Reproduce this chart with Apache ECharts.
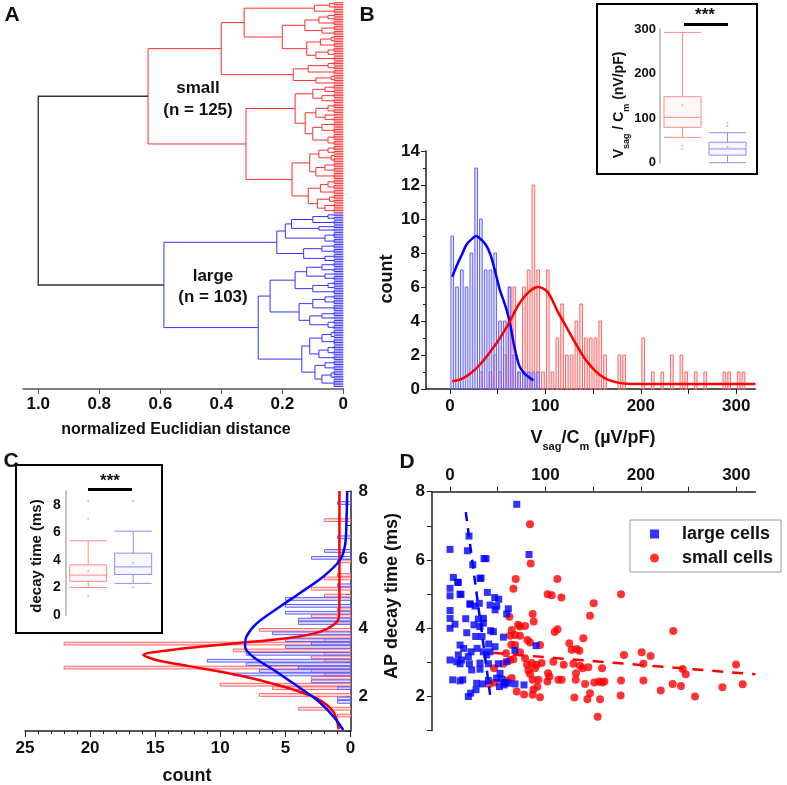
<!DOCTYPE html>
<html>
<head>
<meta charset="utf-8">
<script src="https://cdn.jsdelivr.net/npm/echarts@6/dist/echarts.min.js"></script>
<style>
  html, body { margin: 0; padding: 0; background: #fff; }
  #main { width: 787px; height: 785px; }
</style>
</head>
<body>
<div id="main"></div>
<script>
// ---------- A: dendrogram (node = [height, child, child]; a bare number = tight bundle of leaves)
var smallTree = [0.64,
  [0.40,
    [0.325, [0.095, [0.045, 2, 2], 3],
            [0.20, [0.126, [0.08, [0.05, 2, 2], 3], [0.07, 3, 3]],
                   [0.12, [0.075, [0.04, 2, 2], 3], [0.09, [0.05, 3, 2], 3]]]],
    [0.164, [0.115, [0.05, 3, 2], 3], [0.09, [0.04, 2, 2], 2]]],
  [0.319,
    [0.158, [0.10, [0.06, 3, 2], [0.07, 3, 3]],
            [0.125, [0.09, [0.05, 3, 3], [0.06, 2, 3]], [0.1, [0.07, 3, 4], [0.05, 4, 3]]]],
    [0.168, [0.11, [0.08, [0.05, 3, 2], [0.04, 2, 3]], [0.09, [0.06, 3, 3], 4]],
            [0.115, [0.075, [0.05, 3, 3], 3], [0.085, [0.045, 3, 2], [0.06, 3, 3]]]]]];
var largeTree = [0.588,
  [0.218, [0.19, [0.17, [0.1, [0.05, 2, 2], 3], [0.08, 2, 2]], [0.06, 4, 3]],
          [0.13, [0.07, 3, 3], [0.06, 3, 2]]],
  [0.279, [0.24, [0.158, [0.12, [0.07, 3, 3], [0.06, 2, 3]], [0.1, [0.05, 3, 2], 3]],
                 [0.145, [0.1, [0.06, 3, 3], 4], [0.11, [0.07, 3, 2], [0.05, 3, 3]]]],
          [0.136, [0.11, [0.07, [0.04, 3, 2], 4], [0.08, [0.05, 3, 3], 3]],
                  [0.093, [0.06, 3, 3], [0.07, [0.04, 3, 2], 5]]]]];
var rootHeight = 1.0;
var bundleHeight = 0.03;
var distTicks = [0, 0.2, 0.4, 0.6, 0.8, 1.0];

// ---------- B: Vsag/Cm histogram [bin centre, count] and fitted curves
var largeSag = [[2.5, 9], [7.5, 6], [12.5, 7], [17.5, 6], [22.5, 8], [27.5, 13], [32.5, 10], [37.5, 7],
  [42.5, 7], [47.5, 8], [52.5, 4], [57.5, 4], [62.5, 6], [67.5, 2], [72.5, 1], [77.5, 1], [82.5, 1],
  [87.5, 1], [92.5, 1]];
var smallSag = [[32.5, 1], [42.5, 1], [47.5, 2], [52.5, 1], [57.5, 2], [62.5, 6], [67.5, 6], [72.5, 1],
  [77.5, 6], [82.5, 7], [87.5, 12], [92.5, 7], [97.5, 1], [102.5, 7], [107.5, 1], [112.5, 3], [117.5, 5],
  [122.5, 2], [127.5, 2], [132.5, 4], [137.5, 5], [142.5, 3], [147.5, 3], [152.5, 3], [157.5, 4],
  [162.5, 2], [177.5, 2], [182.5, 2], [202.5, 3], [212.5, 1], [222.5, 1], [232.5, 2], [242.5, 2],
  [247.5, 1], [257.5, 1], [267.5, 1], [287.5, 1], [292.5, 1], [302.5, 1], [307.5, 1]];
var largeSagFit = [[2.5, 6.6], [7.5, 7.3], [12.5, 7.9], [17.5, 8.5], [22.5, 8.8], [27.5, 9.0], [32.5, 8.8],
  [37.5, 8.5], [42.5, 7.9], [47.5, 6.9], [52.5, 5.8], [57.5, 5.0], [62.5, 4.0], [67.5, 2.5], [72.5, 1.4],
  [77.5, 0.95], [82.5, 0.7], [87.5, 0.5]];
var smallSagFit = [[2.5, 0.45], [12.5, 0.6], [22.5, 0.95], [32.5, 1.5], [42.5, 2.2], [52.5, 3.0],
  [62.5, 3.95], [72.5, 5.0], [82.5, 5.7], [92.5, 6.0], [102.5, 5.7], [112.5, 4.6], [122.5, 3.6],
  [132.5, 2.6], [142.5, 1.7], [152.5, 1.05], [162.5, 0.62], [172.5, 0.42], [182.5, 0.33], [200, 0.3],
  [250, 0.3], [320, 0.3]];
var sagTicks = [0, 50, 100, 150, 200, 250, 300];
var sagLabels = [0, 100, 200, 300];

// B inset box plot (nV/pF): [min, Q1, median, Q3, max]
var sagBoxSmall = [57, 79.5, 102, 148.5, 293];
var sagBoxLarge = [0, 17, 31, 46, 67.5];
var sagDotsSmall = [38, 30, 129];
var sagDotsLarge = [90, 82.5, 36];

// ---------- C: AP decay time histogram [bin centre (ms), count] and fits [count, ms]
var smallDecay = [[7.15, 2], [5.95, 1], [5.55, 1], [5.45, 2], [5.15, 3], [4.95, 2], [4.55, 1], [4.35, 3],
  [4.15, 1], [3.95, 7], [3.75, 4], [3.65, 2], [3.55, 22], [3.35, 9], [3.25, 2], [3.15, 3], [3.05, 2],
  [2.85, 22], [2.75, 3], [2.65, 2], [2.55, 3], [2.35, 10], [2.25, 6], [2.05, 7], [1.65, 4], [1.45, 1]];
var largeDecay = [[7.65, 1], [6.65, 1], [6.25, 2], [6.05, 3], [5.25, 1], [4.85, 5], [4.65, 5], [4.45, 5],
  [4.25, 4], [4.15, 4], [3.85, 6], [3.65, 5], [3.55, 3], [3.45, 5], [3.25, 8], [3.05, 11], [2.95, 8],
  [2.85, 4], [2.75, 7], [2.65, 9], [2.45, 3], [2.25, 1], [1.95, 1], [1.85, 1]];
var smallDecayFit = [[0.85, 8.0], [0.85, 5.0], [0.9, 4.3], [1.3, 4.1], [2.3, 3.9], [4.6, 3.72], [9, 3.55],
  [13.6, 3.37], [15.9, 3.22], [15, 3.08], [12.5, 2.9], [8.5, 2.62], [5.2, 2.3], [2.6, 1.95], [1.3, 1.55],
  [0.9, 1.05]];
var largeDecayFit = [[0.25, 8.0], [0.3, 7.25], [0.4, 6.47], [0.8, 5.99], [2.1, 5.5], [3.9, 5.02],
  [5.4, 4.63], [7.2, 4.14], [8.0, 3.75], [8.1, 3.46], [7.5, 3.17], [5.9, 2.78], [4.4, 2.39], [2.6, 1.91],
  [1.3, 1.42], [0.55, 1.03]];
var decayLabels = [2, 4, 6, 8];

// C inset box plot (ms)
var decayBoxSmall = [2.0, 2.45, 2.9, 3.65, 5.4];
var decayBoxLarge = [2.3, 2.95, 3.5, 4.5, 6.1];
var decayDotsSmall = [1.4, 7.0, 8.3, 3.2];
var decayDotsLarge = [2.0, 8.3, 3.8];

// ---------- D: scatter [Vsag/Cm, decay time]
var largeCells = [[69.9, 7.63], [19.9, 6.7], [0, 6.31], [18.2, 6.27], [23.8, 5.86], [35.6, 6.04], [37.7, 6.04],
  [82.8, 6.16], [3.5, 5.49], [0, 5.17], [8.7, 5.34], [0, 4.95], [11.5, 4.99], [31.4, 5.46], [39.1, 5.05],
  [46.8, 4.9], [51, 4.85], [48.9, 4.65], [0, 4.52], [0, 4.29], [5.2, 4.12], [0, 4.0], [21, 4.71],
  [26.2, 4.65], [30.7, 4.73], [41.9, 4.68], [47.2, 4.54], [61.1, 4.57], [59.4, 4.42], [16.4, 4.28],
  [29.7, 4.27], [34.9, 4.29], [25.1, 4.1], [31.4, 4.05], [34.9, 4.15], [42.6, 3.93], [45.4, 3.9],
  [17.5, 3.87], [26.9, 3.76], [33.5, 3.76], [55.9, 3.74], [40.5, 3.54], [10.5, 3.51], [14.3, 3.41],
  [22, 3.31], [34.9, 3.31], [41.9, 3.31], [47.2, 3.46], [28.4, 3.41], [38.4, 3.22], [19.2, 3.17],
  [8.7, 3.22], [12.2, 3.07], [0, 3.07], [7, 3.02], [10.5, 2.96], [20.3, 2.96], [31.4, 2.98], [40.2, 2.96],
  [50.6, 2.96], [22.7, 2.78], [31.4, 2.8], [59.4, 3.02], [68, 3.35], [90.1, 3.49], [52.4, 2.68],
  [48.9, 2.54], [54.1, 2.51], [57.6, 2.41], [40.2, 2.47], [2.8, 2.49], [10.5, 2.46], [13.3, 2.49],
  [27.9, 2.39], [34.2, 2.37], [27.2, 2.2], [21.6, 2.1], [19.2, 2.0], [51.7, 2.29], [56.6, 2.34],
  [61.1, 2.39], [68.1, 2.37], [77.5, 2.34], [8.0, 5.35], [10.5, 5.0], [32.5, 5.47], [20.9, 4.71]];
var smallCells = [[83.8, 7.05], [84.5, 5.9], [68.8, 5.44], [112.5, 5.44], [66.4, 5.16], [102.3, 5.0],
  [106.5, 4.97], [116.7, 4.9], [179.2, 5.0], [150.5, 4.73], [146.7, 4.37], [86.6, 4.42], [87.7, 4.2],
  [62.2, 4.34], [109.7, 3.89], [112.6, 3.97], [71.3, 4.1], [73.3, 4.05], [78.6, 4.07], [64.6, 3.95],
  [68.1, 3.8], [73.3, 3.78], [81, 3.66], [83.8, 3.58], [62.9, 3.78], [94.3, 3.51], [64.2, 3.52],
  [68.1, 3.51], [125, 3.56], [139.7, 3.71], [127.5, 3.37], [132.7, 3.39], [135.6, 3.34], [58.7, 3.27],
  [73.3, 3.3], [62.9, 3.07], [66.4, 3.09], [78.6, 3.12], [80.7, 2.93], [85.6, 2.98], [90.8, 2.93],
  [96, 2.98], [89.1, 2.83], [82.1, 2.76], [83.8, 2.66], [102.7, 2.68], [108.3, 3.02], [119.1, 2.93],
  [129.3, 2.96], [136.2, 2.9], [139, 2.83], [159.3, 2.83], [132, 2.68], [145, 2.86], [182.3, 3.22],
  [200.8, 3.3], [210.2, 3.19], [234, 3.92], [202.6, 2.96], [243.8, 2.81], [247, 2.65], [299.7, 2.94],
  [46.1, 2.83], [55.9, 2.96], [64.6, 2.54], [59.7, 2.47], [46.5, 2.41], [41.2, 2.37], [69.9, 2.15],
  [77.6, 2.06], [86.6, 2.05], [94.3, 1.98], [87.3, 2.21], [91.5, 2.29], [86.6, 2.49], [92.6, 2.49],
  [102, 2.44], [104.1, 2.59], [113.5, 2.49], [117, 2.49], [131.7, 2.49], [141.5, 2.37], [130.3, 1.97],
  [143.9, 1.92], [146.7, 2.1], [151.2, 2.41], [156.1, 2.44], [159.3, 2.41], [161.7, 2.44], [157.2, 1.92],
  [154.7, 1.41], [179.2, 2.47], [178.8, 2.03], [202.6, 2.47], [220.8, 2.18], [233.3, 2.37], [242, 2.31],
  [256.7, 2.0], [285.4, 2.27], [306.7, 2.36]];
var largeCellsFit = [[16.5, 7.4], [42, 2.05]];
var smallCellsFit = [[45, 3.28], [320, 2.65]];

// ---------- build dendrogram segments
var FONT = 'Liberation Sans';
var treeColors = ['#ff3030', '#3535ff', '#333333'];
var dendro = [];
var leafIdx = 0;
function walk(node, col) {
  if (typeof node === 'number') {
    var first = leafIdx, last = leafIdx + node - 1;
    if (node === 1) { leafIdx++; return { y: first, h: 0 }; }
    for (var k = 0; k < node; k++) {
      dendro.push([0, leafIdx, bundleHeight, leafIdx, bundleHeight, leafIdx, bundleHeight, leafIdx, col]);
      leafIdx++;
    }
    dendro.push([bundleHeight, first, bundleHeight, first, bundleHeight, last, bundleHeight, last, col]);
    return { y: (first + last) / 2, h: bundleHeight };
  }
  var h = node[0];
  var kids = node.slice(1).map(function (c) { return walk(c, col); });
  var a = kids[0], b = kids[kids.length - 1];
  dendro.push([a.h, a.y, h, a.y, h, b.y, b.h, b.y, col]);
  return { y: (a.y + b.y) / 2, h: h };
}
var topBranch = walk(smallTree, 0);
var botBranch = walk(largeTree, 1);
dendro.push([topBranch.h, topBranch.y, rootHeight, topBranch.y, rootHeight, botBranch.y, botBranch.h, botBranch.y, 2]);

function renderDendro(params, api) {
  var pts = [];
  for (var k = 0; k < 4; k++) pts.push(api.coord([api.value(2 * k), api.value(2 * k + 1)]));
  return {
    type: 'polyline',
    shape: { points: pts },
    style: { stroke: treeColors[api.value(8)], fill: null, lineWidth: api.value(8) === 2 ? 1.4 : 1 }
  };
}

function rectRender(horizontal, half, stroke, fill) {
  return function (params, api) {
    var v = api.value(0), c = api.value(1);
    var p0, p1;
    if (horizontal) { p0 = api.coord([c, v + half]); p1 = api.coord([0, v - half]); }
    else { p0 = api.coord([v - half, c]); p1 = api.coord([v + half, 0]); }
    return {
      type: 'rect',
      shape: {
        x: Math.min(p0[0], p1[0]), y: Math.min(p0[1], p1[1]),
        width: Math.abs(p1[0] - p0[0]), height: Math.abs(p1[1] - p0[1])
      },
      style: { stroke: stroke, fill: fill, lineWidth: 1 }
    };
  };
}

function bold(size) {
  return { fontFamily: FONT, fontWeight: 'bold', fontSize: size, color: '#111' };
}
var darkLine = { onZero: false, lineStyle: { color: '#222', width: 1.5 } };

function txt(x, y, text, size, extra) {
  var s = { text: text, x: 0, y: 0, fontFamily: FONT, fontWeight: 'bold', fontSize: size,
    fill: '#111', align: 'center', verticalAlign: 'middle' };
  var el = { type: 'text', x: x, y: y, z: 50, style: s };
  if (extra) {
    if (extra.rotation) el.rotation = extra.rotation;
    if (extra.rich) s.rich = extra.rich;
  }
  return el;
}
function subRich(big, small) {
  return {
    b: { fontFamily: FONT, fontWeight: 'bold', fontSize: big, fill: '#111', lineHeight: big + 5, verticalAlign: 'top' },
    s: { fontFamily: FONT, fontWeight: 'bold', fontSize: small, fill: '#111', lineHeight: small + 1, verticalAlign: 'bottom' }
  };
}

var dom = document.getElementById('main');
var myChart = echarts.init(dom, null, { renderer: 'canvas' });

var option = {
  backgroundColor: '#ffffff',
  animation: false,
  grid: [
    { left: 23, top: 1, width: 320.3, height: 388, outerBoundsMode: 'none' },
    { left: 426, top: 151, width: 329.4, height: 238, outerBoundsMode: 'none' },
    { left: 660, top: 29.3, width: 90, height: 133.4, outerBoundsMode: 'none' },
    { left: 25, top: 491, width: 325.5, height: 240, outerBoundsMode: 'none' },
    { left: 65.7, top: 491.3, width: 90, height: 123.7, outerBoundsMode: 'none' },
    { left: 431.9, top: 491.7, width: 323.5, height: 239, outerBoundsMode: 'none' }
  ],
  xAxis: [
    { gridIndex: 0, type: 'value', min: 0, max: 1.05, inverse: true,
      axisLine: { onZero: false, lineStyle: { color: '#555', width: 1.5 } },
      axisTick: { customValues: distTicks, length: 5, lineStyle: { color: '#555' } },
      axisLabel: Object.assign({ customValues: distTicks, margin: 7,
        formatter: function (v) { return v === 0 ? '0' : v.toFixed(1); } }, bold(17)),
      splitLine: { show: false } },
    { gridIndex: 1, type: 'value', min: -25, max: 320,
      axisLine: darkLine, axisTick: { customValues: sagTicks, length: 5, lineStyle: { color: '#222' } },
      axisLabel: Object.assign({ customValues: sagLabels, margin: 9 }, bold(17)),
      splitLine: { show: false } },
    { gridIndex: 2, type: 'category', data: ['small', 'large'], show: false },
    { gridIndex: 3, type: 'value', min: 0, max: 25, interval: 5, inverse: true,
      axisLine: darkLine, axisTick: { length: 6, lineStyle: { color: '#222' } },
      minorTick: { show: true, splitNumber: 5, length: 3, lineStyle: { color: '#222' } },
      axisLabel: Object.assign({ margin: 9 }, bold(17)),
      splitLine: { show: false } },
    { gridIndex: 4, type: 'category', data: ['small', 'large'], show: false },
    { gridIndex: 5, type: 'value', min: -19, max: 320, position: 'top',
      axisLine: darkLine, axisTick: { customValues: sagTicks, length: 5, lineStyle: { color: '#222' } },
      axisLabel: Object.assign({ customValues: sagLabels, margin: 8 }, bold(17)),
      splitLine: { show: false } }
  ],
  yAxis: [
    { gridIndex: 0, type: 'value', min: -1, max: 228.5, inverse: true, show: false, splitLine: { show: false } },
    { gridIndex: 1, type: 'value', min: 0, max: 14, interval: 2,
      axisLine: Object.assign({ show: true }, darkLine),
      axisTick: { show: true, length: 5, lineStyle: { color: '#222' } },
      minorTick: { show: true, splitNumber: 2, length: 3, lineStyle: { color: '#222' } },
      axisLabel: Object.assign({ margin: 6 }, bold(17)), splitLine: { show: false } },
    { gridIndex: 2, type: 'value', min: 0, max: 300, interval: 100,
      axisLine: { show: true, onZero: false, lineStyle: { color: '#c4c4c4', width: 2 } }, axisTick: { show: false },
      axisLabel: Object.assign({ margin: 4 }, bold(13)), splitLine: { show: false } },
    { gridIndex: 3, type: 'value', min: 1, max: 8, interval: 1, position: 'right',
      axisLine: Object.assign({ show: true }, darkLine),
      axisTick: { show: true, inside: true, length: 5, lineStyle: { color: '#222' } },
      axisLabel: Object.assign({ customValues: decayLabels, margin: 8 }, bold(17)), splitLine: { show: false } },
    { gridIndex: 4, type: 'value', min: 0, max: 9, interval: 1,
      axisLine: { show: true, onZero: false, lineStyle: { color: '#c4c4c4', width: 2 } }, axisTick: { show: false },
      axisLabel: Object.assign({ customValues: [0, 2, 4, 6, 8], margin: 5 }, bold(14)), splitLine: { show: false } },
    { gridIndex: 5, type: 'value', min: 1, max: 8, interval: 1,
      axisLine: Object.assign({ show: true }, darkLine),
      axisTick: { show: true, length: 5, lineStyle: { color: '#222' } },
      axisLabel: Object.assign({ customValues: decayLabels, margin: 7 }, bold(17)), splitLine: { show: false } }
  ],
  legend: {
    data: [{ name: 'large cells', icon: 'rect' }, { name: 'small cells', icon: 'circle' }],
    orient: 'vertical', left: 630, top: 520, padding: [5, 8, 5, 20], itemGap: 6,
    itemWidth: 9, itemHeight: 9, borderColor: '#999', borderWidth: 1, selectedMode: false,
    textStyle: Object.assign({ padding: [0, 0, 0, 18] }, bold(18))
  },
  series: [
    { name: 'dendrogram', type: 'custom', xAxisIndex: 0, yAxisIndex: 0, renderItem: renderDendro,
      data: dendro, silent: true },

    { name: 'sag small', type: 'custom', xAxisIndex: 1, yAxisIndex: 1, data: smallSag,
      renderItem: rectRender(false, 1.4, '#ff6a6a', 'rgba(255,90,90,0.18)') },
    { name: 'sag large', type: 'custom', xAxisIndex: 1, yAxisIndex: 1, data: largeSag,
      renderItem: rectRender(false, 1.4, '#6464ff', 'rgba(90,90,255,0.2)') },
    { name: 'sag large fit', type: 'line', xAxisIndex: 1, yAxisIndex: 1, data: largeSagFit, smooth: 0.3,
      showSymbol: false, lineStyle: { color: '#0000ff', width: 2.5 }, z: 5 },
    { name: 'sag small fit', type: 'line', xAxisIndex: 1, yAxisIndex: 1, data: smallSagFit, smooth: 0.3,
      showSymbol: false, lineStyle: { color: '#ff0000', width: 2.5 }, z: 5 },

    { name: 'sag box', type: 'boxplot', xAxisIndex: 2, yAxisIndex: 2, boxWidth: [37, 37],
      data: [
        { value: sagBoxSmall, itemStyle: { color: 'rgba(255,120,120,0.06)', borderColor: '#ff8c8c', borderWidth: 1 } },
        { value: sagBoxLarge, itemStyle: { color: 'rgba(120,120,255,0.06)', borderColor: '#8c8cff', borderWidth: 1 } }
      ] },
    { name: 'sag dots', type: 'scatter', xAxisIndex: 2, yAxisIndex: 2, symbolSize: 2,
      data: sagDotsSmall.map(function (v) { return { value: [0, v], itemStyle: { color: '#ff9a9a' } }; })
        .concat(sagDotsLarge.map(function (v) { return { value: [1, v], itemStyle: { color: '#9a9aff' } }; })) },

    { name: 'decay small', type: 'custom', xAxisIndex: 3, yAxisIndex: 3, data: smallDecay,
      renderItem: rectRender(true, 0.04, '#ff6a6a', 'rgba(255,90,90,0.18)') },
    { name: 'decay large', type: 'custom', xAxisIndex: 3, yAxisIndex: 3, data: largeDecay,
      renderItem: rectRender(true, 0.04, '#6464ff', 'rgba(90,90,255,0.2)') },
    { name: 'decay small fit', type: 'line', xAxisIndex: 3, yAxisIndex: 3, data: smallDecayFit, smooth: 0.3,
      showSymbol: false, lineStyle: { color: '#ff0000', width: 2.5 }, z: 5 },
    { name: 'decay large fit', type: 'line', xAxisIndex: 3, yAxisIndex: 3, data: largeDecayFit, smooth: 0.3,
      showSymbol: false, lineStyle: { color: '#0000ff', width: 2.5 }, z: 6 },

    { name: 'decay box', type: 'boxplot', xAxisIndex: 4, yAxisIndex: 4, boxWidth: [37, 37],
      data: [
        { value: decayBoxSmall, itemStyle: { color: 'rgba(255,120,120,0.06)', borderColor: '#ff8c8c', borderWidth: 1 } },
        { value: decayBoxLarge, itemStyle: { color: 'rgba(120,120,255,0.06)', borderColor: '#8c8cff', borderWidth: 1 } }
      ] },
    { name: 'decay dots', type: 'scatter', xAxisIndex: 4, yAxisIndex: 4, symbolSize: 2,
      data: decayDotsSmall.map(function (v) { return { value: [0, v], itemStyle: { color: '#ff9a9a' } }; })
        .concat(decayDotsLarge.map(function (v) { return { value: [1, v], itemStyle: { color: '#9a9aff' } }; })) },

    { name: 'large cells', type: 'scatter', xAxisIndex: 5, yAxisIndex: 5, data: largeCells,
      symbol: 'rect', symbolSize: 7, itemStyle: { color: '#0000ff' }, z: 4 },
    { name: 'small cells', type: 'scatter', xAxisIndex: 5, yAxisIndex: 5, data: smallCells,
      symbol: 'circle', symbolSize: 8, itemStyle: { color: '#ff0000' }, z: 3 },
    { name: 'large fit', type: 'line', xAxisIndex: 5, yAxisIndex: 5, data: largeCellsFit, showSymbol: false,
      lineStyle: { color: '#0000ff', width: 2.5, type: [9, 7] }, z: 5 },
    { name: 'small fit', type: 'line', xAxisIndex: 5, yAxisIndex: 5, data: smallCellsFit, showSymbol: false,
      lineStyle: { color: '#ff0000', width: 2.5, type: [11, 9] }, z: 5 }
  ],
  graphic: [
    txt(12, 15, 'A', 21), txt(367, 15, 'B', 21), txt(11, 461, 'C', 21), txt(407, 462, 'D', 21),
    txt(198, 88, 'small', 17), txt(198, 110, '(n = 125)', 17),
    txt(213, 276, 'large', 17), txt(213, 297, '(n = 103)', 17),
    txt(176, 430, 'normalized Euclidian distance', 16),
    txt(387, 279, 'count', 18, { rotation: Math.PI / 2 }),
    txt(593, 441, '{b|V}{s|sag}{b|/C}{s|m}{b| (µV/pF)}', 18, { rich: subRich(18, 11) }),
    txt(187, 776, 'count', 18),
    txt(392, 596, 'AP decay time (ms)', 18, { rotation: Math.PI / 2 }),
    txt(622, 105, '{b|V}{s|sag}{b| / C}{s|m}{b| (nV/pF)}', 14, { rotation: Math.PI / 2, rich: subRich(14, 9) }),
    txt(37, 556, 'decay time (ms)', 15, { rotation: Math.PI / 2 }),
    txt(705, 15, '***', 17), txt(110, 481, '***', 17),
    { type: 'line', z: 50, shape: { x1: 684, y1: 24.5, x2: 728, y2: 24.5 }, style: { stroke: '#000', lineWidth: 3 } },
    { type: 'line', z: 50, shape: { x1: 88, y1: 489.5, x2: 132, y2: 489.5 }, style: { stroke: '#000', lineWidth: 3 } },
    { type: 'rect', z: 50, shape: { x: 597, y: 4, width: 160, height: 170 }, style: { stroke: '#000', fill: null, lineWidth: 2 } },
    { type: 'rect', z: 50, shape: { x: 16, y: 465, width: 146, height: 168 }, style: { stroke: '#000', fill: null, lineWidth: 2 } }
  ]
};

if (option && typeof option === 'object') {
  myChart.setOption(option);
}

window.addEventListener('resize', myChart.resize);
</script>
</body>
</html>
